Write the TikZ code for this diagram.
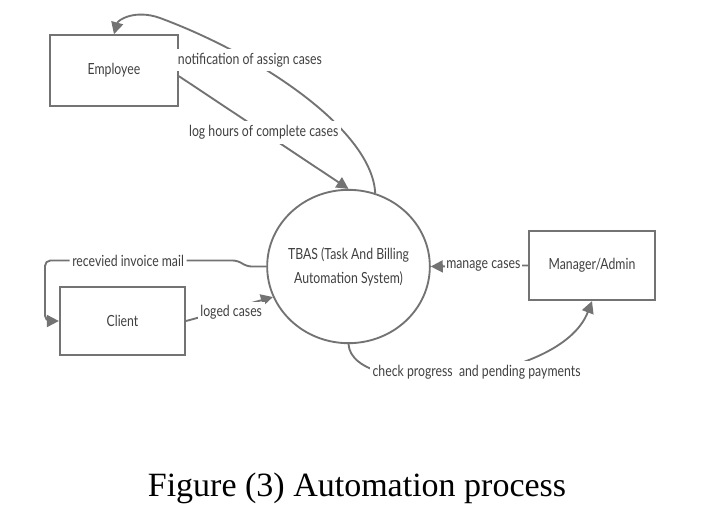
\documentclass[tikz,border=0pt]{standalone}
\usepackage{fontspec}
\setmainfont{Lato}[FakeStretch=0.8]
\newfontfamily\capfont{Liberation Serif}
\usetikzlibrary{arrows.meta, shapes.geometric}

\definecolor{linegray}{HTML}{737373}
\definecolor{textgray}{HTML}{404040}

\begin{document}
\begin{tikzpicture}[x=0.75pt, y=-0.75pt]
\useasboundingbox (0, 0) rectangle (711, 525);

\begin{scope}[every node/.style={draw=linegray, line width=1.4pt, text=textgray, font=\fontsize{11.5}{18}\selectfont}]
    \node (employee) at (114, 70.5) [shape=rectangle, minimum width=96pt, minimum height=53pt] {Employee};
    \node (client) at (122.5, 321) [shape=rectangle, minimum width=94pt, minimum height=51pt] {Client};
    \node (manager) at (592, 265.5) [shape=rectangle, minimum width=94.5pt, minimum height=52pt] {Manager/Admin};
    \node (tbas) at (348.5, 266.5) [shape=ellipse, minimum width=122pt, minimum height=115pt, inner sep=0pt, inner xsep=-3pt, align=center] {TBAS (Task And Billing\\Automation System)};
\end{scope}

\node (caption) at (357, 488) [font=\capfont\fontsize{25.5}{30}\selectfont] {Figure (3) Automation process};

\coordinate (mailcorner) at (45, 260.5);

\begin{scope}[>={Triangle[length=9pt, width=9pt]}, color=linegray, line width=1.4pt,
              every node/.style={fill=white, text=textgray, inner sep=3pt, inner xsep=2pt, font=\fontsize{11.5}{12}\selectfont},
              every edge/.style={draw=linegray, line width=1.4pt}]
    \draw [->] (tbas.70) .. controls (372, 130) and (260, 55) .. (160, 18) node[pos=0.7] {notification of assign cases}
        .. controls (135, 9) and (118, 20) .. (employee.north);
    \path [->] (employee.-5) edge node {log hours of complete cases} (tbas.north);
    \draw [->, rounded corners=4pt] (tbas.west) -- ++(-20, 0) -- ++(-8, -6)
        -- node[pos=0.57] {recevied invoice mail} (mailcorner) |- (client.west);
    \path [->] (client.east) edge node [pos=0.52, yshift=-3pt] {loged cases} (tbas.202);
    \path [->] (manager.west) edge node [pos=0.46, inner xsep=1pt] {manage cases} (tbas.east);
    \draw [->] (tbas.south) .. controls (352, 400) and (560, 385) .. (manager.south) node[pos=0.55] {check progress~ and pending payments};
\end{scope}
\end{tikzpicture}
\end{document}
